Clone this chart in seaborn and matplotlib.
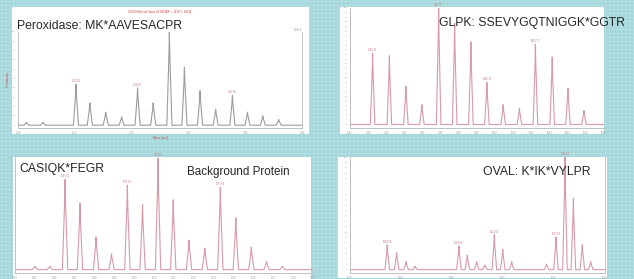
import numpy as np
import pandas as pd
import matplotlib.pyplot as plt
import seaborn as sns
from matplotlib.patches import Rectangle

# ---- data: peak centres (0-100 across each axis) and relative heights ----
perox_pos = [3.0, 8.8, 20.4, 25.3, 30.9, 36.5, 42.1, 47.6, 53.3, 58.6, 64.1, 69.6, 75.5, 80.8, 86.2, 91.8]
perox_int = [0.03, 0.03, 0.44, 0.24, 0.14, 0.09, 0.40, 0.24, 1.00, 0.62, 0.37, 0.17, 0.32, 0.14, 0.10, 0.06]
perox_lab = {20.4: "1172.65", 42.1: "1176.66", 75.5: "1182.68"}

glpk_pos = [8.9, 15.5, 22.0, 28.3, 34.9, 41.2, 47.6, 53.9, 60.3, 66.7, 73.0, 79.6, 85.8, 92.1]
glpk_int = [0.61, 0.59, 0.33, 0.17, 1.00, 0.87, 0.71, 0.36, 0.17, 0.14, 0.69, 0.58, 0.31, 0.12]
glpk_lab = {8.9: "1593.74", 34.9: "1597.75", 53.9: "1599.76", 73.0: "1601.77"}

casi_pos = [6.7, 11.7, 16.8, 21.8, 27.2, 32.4, 37.7, 42.8, 48.0, 53.1, 58.4, 63.7, 68.9, 74.1, 79.3, 84.4, 89.7]
casi_int = [0.03, 0.03, 0.80, 0.59, 0.29, 0.14, 0.75, 0.58, 0.99, 0.62, 0.26, 0.19, 0.73, 0.46, 0.20, 0.07, 0.03]
casi_lab = {16.8: "1267.61", 37.7: "1271.62", 48.0: "1273.63", 68.9: "1277.64"}

oval_pos = [14.6, 18.3, 22.0, 25.5, 42.7, 46.0, 49.7, 52.9, 56.6, 59.9, 63.4, 77.1, 80.8, 84.3, 87.6, 91.1, 94.4]
oval_int = [0.22, 0.15, 0.07, 0.03, 0.21, 0.13, 0.07, 0.04, 0.31, 0.18, 0.07, 0.05, 0.29, 1.00, 0.63, 0.22, 0.07]
oval_lab = {14.6: "1003.58", 42.7: "1009.60", 56.6: "1012.61", 80.8: "1017.63", 84.3: "1018.63"}

perox_ticks = ["1168", "1172", "1176", "1180", "1184", "1188"]
glpk_ticks = ["1592", "1593", "1594", "1595", "1596", "1597", "1598", "1599", "1600", "1601", "1602", "1603", "1604", "1605", "1606"]
casi_ticks = ["1264", "1265", "1266", "1267", "1268", "1269", "1270", "1271", "1272", "1273", "1274", "1275", "1276", "1277", "1278", "1279"]
oval_ticks = ["1000", "1004", "1008", "1012", "1016", "1020"]

sns.set_theme(style="white")
plt.rcParams["font.family"] = ["Liberation Sans", "DejaVu Sans"]

W, H = 634, 279
TEAL = "#a5d6da"
PEAK = "#d89aa6"
GRAYPEAK = "#9c9c9c"


def box(x0, y0, x1, y1):
    # pixel box -> figure fraction
    return [x0 / W, 1 - y1 / H, (x1 - x0) / W, (y1 - y0) / H]


def spectrum_frame(pos, inten, half=0.9, base=0.0):
    xs, ys = [0.0], [base]
    for p, h in zip(pos, inten):
        xs += [p - half, p - 0.15, p, p + 0.15, p + half]
        ys += [base, h * 0.75, h, h * 0.75, base]
    xs.append(100.0)
    ys.append(base)
    return pd.DataFrame({"mz": xs, "intensity": ys})


def draw_spectrum(rect, pos, inten, labels, ticks, n_yticks, color=PEAK, right=False, header=False):
    ax = fig.add_axes(box(*rect))
    ax.patch.set_alpha(0)
    df = spectrum_frame(pos, inten)
    sns.lineplot(data=df, x="mz", y="intensity", sort=False, estimator=None,
                 color=color, linewidth=0.8, ax=ax)
    ax.set_xlim(0, 100)
    ax.set_ylim(-0.03, 1.0)
    for p, s in labels.items():
        h = inten[pos.index(p)]
        ax.text(p, h + 0.01, s, fontsize=1.8, color="#c07080", ha="center", va="bottom")
    ax.set_xticks(np.linspace(0, 100, len(ticks)))
    ax.set_xticklabels(ticks, fontsize=1.8, color="#808080")
    ax.set_yticks(np.linspace(0, 1, n_yticks))
    ax.set_yticklabels([str(v) for v in np.linspace(0, 100, n_yticks).astype(int)],
                       fontsize=1.6, color="#808080")
    ax.tick_params(length=1.2, width=0.3, pad=0.8, colors="#999999")
    ax.set_xlabel("")
    ax.set_ylabel("")
    for side in ["top", "right"]:
        ax.spines[side].set_visible(False)
    if right:
        ax.spines["right"].set_visible(True)
    for sp in ax.spines.values():
        sp.set_color("#b5b5b5")
        sp.set_linewidth(0.6)
    if header:
        ax.set_title("4700 Reflector Spec #1 MC[BP = 1178.7, 2829]", fontsize=2.2,
                     color="#d04040", pad=14)
        ax.set_xlabel("Mass (m/z)", fontsize=2.2, color="#d04040", labelpad=1)
        ax.set_ylabel("% Intensity", fontsize=2.2, color="#d04040", labelpad=1)
        ax.text(100, 1.0, "1.0E+4", fontsize=1.8, color="#808080", ha="right", va="bottom")
    return ax


fig = plt.figure(figsize=(W / 100, H / 100), dpi=100)

# slide background with faint dotted grid pattern
bg = fig.add_axes([0, 0, 1, 1])
bg.set_facecolor(TEAL)
bg.set_xlim(0, W)
bg.set_ylim(H, 0)
bg.set_xticks(np.arange(1, W, 4))
bg.set_yticks(np.arange(1, H, 4))
bg.grid(True, color="white", alpha=0.25, linewidth=0.5)
bg.tick_params(length=0, labelbottom=False, labelleft=False)
for sp in bg.spines.values():
    sp.set_visible(False)

# white screenshot panels
for (x0, y0, x1, y1) in [(12, 7, 309, 134), (340, 7, 604, 134), (13, 157, 311, 279), (338, 157, 607, 278)]:
    bg.add_patch(Rectangle((x0, y0), x1 - x0, y1 - y0, facecolor="white", edgecolor="none"))

draw_spectrum((18, 32, 302, 128), perox_pos, perox_int, perox_lab, perox_ticks, 11,
              color=GRAYPEAK, right=True, header=True)
draw_spectrum((350, 8, 604, 128), glpk_pos, glpk_int, glpk_lab, glpk_ticks, 26)
draw_spectrum((15, 157, 313, 273), casi_pos, casi_int, casi_lab, casi_ticks, 24)
draw_spectrum((350, 157, 605, 273), oval_pos, oval_int, oval_lab, oval_ticks, 22, right=True)

# slide captions
CAP = 8.8
fig.text(17 / W, 1 - 26 / H, "Peroxidase: MK*AAVESACPR", fontsize=CAP, ha="left", va="center")
fig.text(439 / W, 1 - 23 / H, "GLPK: SSEVYGQTNIGGK*GGTR", fontsize=CAP, ha="left", va="center")
fig.text(19 / W, 1 - 169 / H, "CASIQK*FEGR", fontsize=CAP, ha="left", va="center")
fig.text(187 / W, 1 - 172 / H, "Background Protein", fontsize=CAP - 0.4, ha="left", va="center")
fig.text(483 / W, 1 - 172 / H, "OVAL: K*IK*VYLPR", fontsize=CAP, ha="left", va="center")

fig.savefig("out.png", dpi=100)
